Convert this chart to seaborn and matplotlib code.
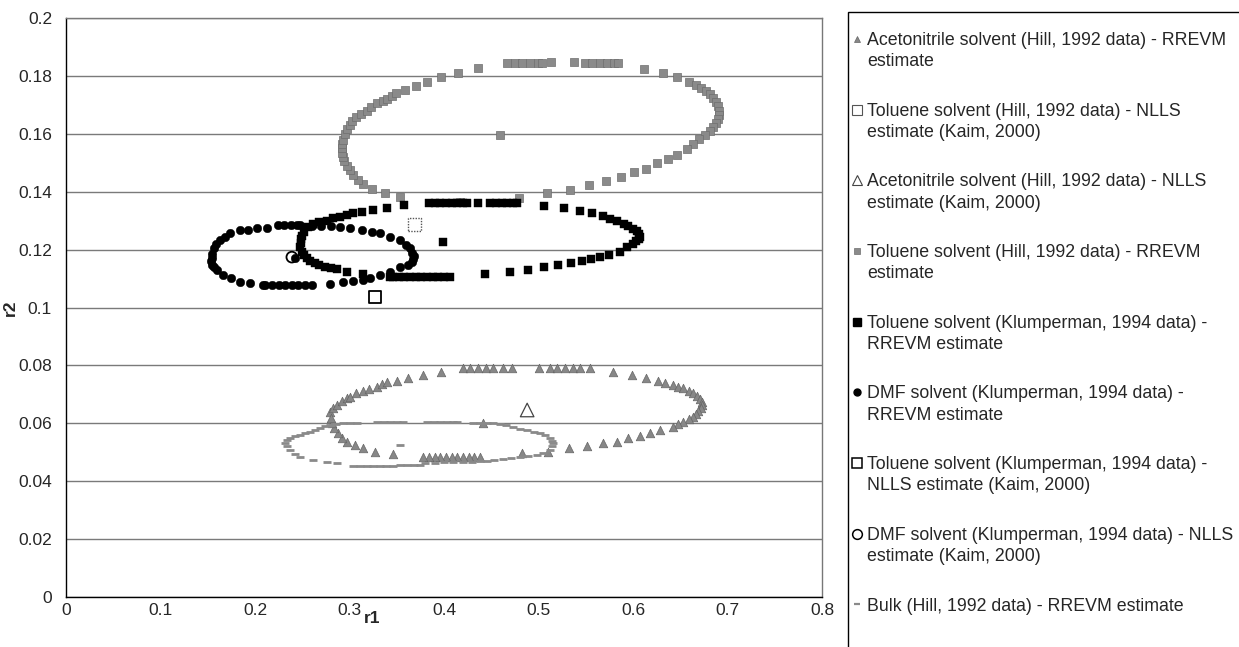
import matplotlib
matplotlib.use("Agg")
import matplotlib.pyplot as plt
from matplotlib.lines import Line2D
from matplotlib.legend_handler import HandlerLine2D
from matplotlib.patches import Rectangle
import seaborn as sns

# ---------------- data ----------------
# Acetonitrile solvent (Hill, 1992 data) - RREVM estimate (region + point estimate)
acn_rrevm_r1 = [0.279, 0.283, 0.287, 0.292, 0.297, 0.300, 0.307, 0.314, 0.321, 0.329, 0.334, 0.340,
                0.350, 0.362, 0.378, 0.397, 0.420, 0.428, 0.436, 0.444, 0.452, 0.462, 0.472, 0.500,
                0.512, 0.520, 0.528, 0.536, 0.544, 0.555, 0.579, 0.599, 0.614, 0.626, 0.634, 0.642,
                0.648, 0.653, 0.659, 0.664, 0.668, 0.671, 0.673, 0.673, 0.672, 0.669, 0.667, 0.664,
                0.659, 0.653, 0.648, 0.642, 0.629, 0.618, 0.607, 0.595, 0.583, 0.568, 0.551, 0.532,
                0.510, 0.483, 0.438, 0.432, 0.426, 0.420, 0.414, 0.408, 0.402, 0.396, 0.390, 0.384,
                0.378, 0.346, 0.327, 0.314, 0.306, 0.297, 0.292, 0.288, 0.284, 0.281, 0.280, 0.441]
acn_rrevm_r2 = [0.0640, 0.0652, 0.0663, 0.0677, 0.0688, 0.0692, 0.0703, 0.0713, 0.0720, 0.0726, 0.0735, 0.0742,
                0.0747, 0.0756, 0.0767, 0.0777, 0.0791, 0.0791, 0.0791, 0.0791, 0.0791, 0.0791, 0.0791, 0.0791,
                0.0790, 0.0790, 0.0790, 0.0790, 0.0790, 0.0790, 0.0777, 0.0767, 0.0756, 0.0746, 0.0738, 0.0732,
                0.0727, 0.0722, 0.0713, 0.0705, 0.0695, 0.0685, 0.0674, 0.0663, 0.0652, 0.0641, 0.0632, 0.0622,
                0.0614, 0.0605, 0.0597, 0.0587, 0.0577, 0.0566, 0.0556, 0.0549, 0.0535, 0.0532, 0.0522, 0.0515,
                0.0501, 0.0497, 0.0484, 0.0484, 0.0484, 0.0484, 0.0484, 0.0484, 0.0484, 0.0484, 0.0484, 0.0484,
                0.0484, 0.0494, 0.0501, 0.0515, 0.0525, 0.0535, 0.0550, 0.0566, 0.0584, 0.0601, 0.0620, 0.0601]

# Toluene solvent (Hill, 1992 data) - NLLS estimate (Kaim, 2000)
tol_hill_nlls_r1 = [0.369]
tol_hill_nlls_r2 = [0.1287]

# Acetonitrile solvent (Hill, 1992 data) - NLLS estimate (Kaim, 2000)
acn_nlls_r1 = [0.488]
acn_nlls_r2 = [0.0646]

# Toluene solvent (Hill, 1992 data) - RREVM estimate
tol_hill_rrevm_r1 = [0.467, 0.475, 0.483, 0.491, 0.499, 0.504, 0.513, 0.538, 0.549, 0.557, 0.565, 0.573,
                     0.580, 0.584, 0.612, 0.632, 0.647, 0.659, 0.667, 0.672, 0.677, 0.681, 0.685, 0.688,
                     0.690, 0.691, 0.691, 0.690, 0.688, 0.685, 0.681, 0.676, 0.670, 0.664, 0.657, 0.647,
                     0.637, 0.625, 0.614, 0.601, 0.587, 0.571, 0.553, 0.533, 0.509, 0.479, 0.417, 0.353,
                     0.338, 0.324, 0.314, 0.309, 0.304, 0.300, 0.297, 0.294, 0.293, 0.292, 0.292, 0.292,
                     0.293, 0.295, 0.297, 0.300, 0.303, 0.307, 0.312, 0.318, 0.323, 0.329, 0.335, 0.340,
                     0.345, 0.349, 0.359, 0.370, 0.382, 0.397, 0.415, 0.436, 0.459]
tol_hill_rrevm_r2 = [0.1845, 0.1845, 0.1845, 0.1845, 0.1845, 0.1845, 0.1848, 0.1848, 0.1845, 0.1845, 0.1845, 0.1845,
                     0.1843, 0.1843, 0.1824, 0.1810, 0.1796, 0.1780, 0.1768, 0.1758, 0.1748, 0.1737, 0.1724, 0.1710,
                     0.1695, 0.1680, 0.1665, 0.1650, 0.1636, 0.1622, 0.1608, 0.1595, 0.1582, 0.1565, 0.1547, 0.1527,
                     0.1513, 0.1500, 0.1480, 0.1468, 0.1451, 0.1437, 0.1423, 0.1406, 0.1395, 0.1378, 0.1365, 0.1382,
                     0.1395, 0.1410, 0.1425, 0.1440, 0.1458, 0.1475, 0.1490, 0.1505, 0.1520, 0.1535, 0.1550, 0.1565,
                     0.1580, 0.1600, 0.1615, 0.1632, 0.1645, 0.1658, 0.1670, 0.1680, 0.1693, 0.1706, 0.1714, 0.1720,
                     0.1730, 0.1740, 0.1750, 0.1765, 0.1780, 0.1796, 0.1810, 0.1827, 0.1596]

# Toluene solvent (Klumperman, 1994 data) - RREVM estimate
tol_klum_rrevm_r1 = [0.248, 0.2485, 0.249, 0.250, 0.252, 0.256, 0.261, 0.268, 0.276, 0.283, 0.290, 0.297,
                     0.304, 0.313, 0.325, 0.340, 0.358, 0.384, 0.390, 0.396, 0.402, 0.408, 0.414, 0.420,
                     0.424, 0.436, 0.449, 0.455, 0.461, 0.467, 0.473, 0.477, 0.506, 0.527, 0.544, 0.557,
                     0.568, 0.576, 0.583, 0.590, 0.595, 0.600, 0.604, 0.606, 0.607, 0.606, 0.603, 0.600,
                     0.594, 0.586, 0.575, 0.565, 0.556, 0.546, 0.534, 0.521, 0.506, 0.489, 0.470, 0.443,
                     0.406, 0.400, 0.394, 0.388, 0.382, 0.376, 0.370, 0.364, 0.358, 0.352, 0.346, 0.343,
                     0.314, 0.297, 0.287, 0.280, 0.274, 0.268, 0.263, 0.258, 0.255, 0.252, 0.250, 0.399]
tol_klum_rrevm_r2 = [0.1210, 0.1222, 0.1235, 0.1248, 0.1260, 0.1278, 0.1290, 0.1297, 0.1300, 0.1308, 0.1313, 0.1320,
                     0.1326, 0.1330, 0.1337, 0.1344, 0.1354, 0.1361, 0.1361, 0.1361, 0.1361, 0.1361, 0.1361, 0.1361,
                     0.1361, 0.1361, 0.1361, 0.1361, 0.1361, 0.1361, 0.1361, 0.1361, 0.1351, 0.1344, 0.1333, 0.1326,
                     0.1316, 0.1306, 0.1298, 0.1288, 0.1280, 0.1272, 0.1264, 0.1255, 0.1245, 0.1236, 0.1228, 0.1220,
                     0.1208, 0.1192, 0.1180, 0.1174, 0.1167, 0.1160, 0.1154, 0.1147, 0.1140, 0.1130, 0.1123, 0.1116,
                     0.1105, 0.1105, 0.1105, 0.1105, 0.1105, 0.1105, 0.1105, 0.1105, 0.1105, 0.1105, 0.1105, 0.1105,
                     0.1116, 0.1123, 0.1133, 0.1136, 0.1140, 0.1147, 0.1154, 0.1162, 0.1170, 0.1180, 0.1190, 0.1226]

# DMF solvent (Klumperman, 1994 data) - RREVM estimate
dmf_rrevm_r1 = [0.154, 0.155, 0.157, 0.159, 0.163, 0.168, 0.174, 0.184, 0.193, 0.202, 0.213, 0.224,
                0.231, 0.238, 0.244, 0.248, 0.260, 0.270, 0.280, 0.290, 0.300, 0.313, 0.324, 0.332,
                0.343, 0.353, 0.360, 0.364, 0.366, 0.368, 0.367, 0.366, 0.362, 0.353, 0.343, 0.332,
                0.322, 0.314, 0.304, 0.293, 0.279, 0.260, 0.253, 0.246, 0.239, 0.232, 0.225, 0.218,
                0.211, 0.208, 0.195, 0.184, 0.175, 0.166, 0.160, 0.157, 0.155, 0.153, 0.242]
dmf_rrevm_r2 = [0.1170, 0.1185, 0.1205, 0.1220, 0.1233, 0.1245, 0.1257, 0.1268, 0.1268, 0.1275, 0.1275, 0.1285,
                0.1285, 0.1285, 0.1285, 0.1285, 0.1283, 0.1282, 0.1280, 0.1278, 0.1275, 0.1268, 0.1260, 0.1257,
                0.1243, 0.1233, 0.1216, 0.1204, 0.1188, 0.1178, 0.1168, 0.1157, 0.1148, 0.1140, 0.1123, 0.1112,
                0.1102, 0.1095, 0.1092, 0.1088, 0.1081, 0.1078, 0.1078, 0.1078, 0.1078, 0.1078, 0.1078, 0.1078,
                0.1078, 0.1078, 0.1085, 0.1088, 0.1102, 0.1112, 0.1130, 0.1140, 0.1147, 0.1160, 0.1172]

# Toluene solvent (Klumperman, 1994 data) - NLLS estimate (Kaim, 2000)
tol_klum_nlls_r1 = [0.327]
tol_klum_nlls_r2 = [0.1036]

# DMF solvent (Klumperman, 1994 data) - NLLS estimate (Kaim, 2000)
dmf_nlls_r1 = [0.239]
dmf_nlls_r2 = [0.1174]

# Bulk (Hill, 1992 data) - RREVM estimate
bulk_rrevm_r1 = [0.232, 0.234, 0.237, 0.242, 0.248, 0.253, 0.258, 0.263, 0.269, 0.274, 0.279, 0.286,
                 0.293, 0.300, 0.308, 0.329, 0.336, 0.343, 0.350, 0.357, 0.382, 0.389, 0.396, 0.403,
                 0.410, 0.414, 0.431, 0.438, 0.445, 0.452, 0.459, 0.466, 0.473, 0.480, 0.488, 0.495,
                 0.502, 0.507, 0.512, 0.514, 0.515, 0.514, 0.512, 0.505, 0.498, 0.489, 0.480, 0.471,
                 0.462, 0.453, 0.445, 0.438, 0.430, 0.420, 0.410, 0.400, 0.390, 0.380, 0.375, 0.368,
                 0.361, 0.353, 0.346, 0.339, 0.332, 0.325, 0.318, 0.311, 0.304, 0.287, 0.276, 0.261,
                 0.248, 0.242, 0.237, 0.234, 0.353]
bulk_rrevm_r2 = [0.0532, 0.0541, 0.0549, 0.0555, 0.0560, 0.0565, 0.0570, 0.0577, 0.0584, 0.0589, 0.0594, 0.0598,
                 0.0601, 0.0601, 0.0601, 0.0604, 0.0604, 0.0604, 0.0604, 0.0604, 0.0604, 0.0604, 0.0604, 0.0604,
                 0.0604, 0.0604, 0.0601, 0.0601, 0.0601, 0.0601, 0.0598, 0.0593, 0.0587, 0.0582, 0.0577, 0.0571,
                 0.0566, 0.0558, 0.0549, 0.0540, 0.0532, 0.0520, 0.0508, 0.0499, 0.0490, 0.0487, 0.0484, 0.0480,
                 0.0477, 0.0473, 0.0470, 0.0470, 0.0468, 0.0468, 0.0466, 0.0466, 0.0464, 0.0462, 0.0456, 0.0456,
                 0.0456, 0.0456, 0.0453, 0.0453, 0.0453, 0.0453, 0.0453, 0.0453, 0.0453, 0.0463, 0.0466, 0.0473,
                 0.0484, 0.0495, 0.0508, 0.0520, 0.0525]

series_labels = [
    "Acetonitrile solvent (Hill, 1992 data) - RREVM\nestimate",
    "Toluene solvent (Hill, 1992 data) - NLLS\nestimate (Kaim, 2000)",
    "Acetonitrile solvent (Hill, 1992 data) - NLLS\nestimate (Kaim, 2000)",
    "Toluene solvent (Hill, 1992 data) - RREVM\nestimate",
    "Toluene solvent (Klumperman, 1994 data) -\nRREVM estimate",
    "DMF solvent (Klumperman, 1994 data) -\nRREVM estimate",
    "Toluene solvent (Klumperman, 1994 data) -\nNLLS estimate (Kaim, 2000)",
    "DMF solvent (Klumperman, 1994 data) - NLLS\nestimate (Kaim, 2000)",
    "Bulk (Hill, 1992 data) - RREVM estimate",
]
x_ticks = [0, 0.1, 0.2, 0.3, 0.4, 0.5, 0.6, 0.7, 0.8]
x_tick_labels = ["0", "0.1", "0.2", "0.3", "0.4", "0.5", "0.6", "0.7", "0.8"]
y_ticks = [0, 0.02, 0.04, 0.06, 0.08, 0.1, 0.12, 0.14, 0.16, 0.18, 0.2]
y_tick_labels = ["0", "0.02", "0.04", "0.06", "0.08", "0.1", "0.12", "0.14", "0.16", "0.18", "0.2"]

# ---------------- styling ----------------
sns.set_style("white")
plt.rcParams["font.family"] = ["Liberation Sans", "DejaVu Sans"]
FS = 12.5
LFS = 12.8
plt.rcParams["font.size"] = FS

W, H = 1239, 647
fig = plt.figure(figsize=(W / 100, H / 100), dpi=100)
L, R, T, B = 66, 822, 18, 597
ax = fig.add_axes([L / W, 1 - B / H, (R - L) / W, (B - T) / H])

GRAY_SQ = "#8a8a8a"
GRAY_TRI = "#878787"
GRAY_BULK = "#8a8a8a"

styles = [
    (acn_rrevm_r1, acn_rrevm_r2,
     dict(marker="^", s=38, color=GRAY_TRI, edgecolor="#666666", linewidth=0.5),
     dict(marker="^", markersize=5, color=GRAY_TRI, markeredgecolor="#666666", markeredgewidth=0.5)),
    (tol_hill_nlls_r1, tol_hill_nlls_r2,
     dict(marker="s", s=80, facecolor="none", edgecolor="#555555", linewidth=1.0, linestyle=(0, (1, 1))),
     dict(marker="s", markersize=6.5, markerfacecolor="none", markeredgecolor="#555555", markeredgewidth=0.8)),
    (acn_nlls_r1, acn_nlls_r2,
     dict(marker="^", s=95, facecolor="none", edgecolor="#444444", linewidth=0.9),
     dict(marker="^", markersize=7.5, markerfacecolor="none", markeredgecolor="#444444", markeredgewidth=0.8)),
    (tol_hill_rrevm_r1, tol_hill_rrevm_r2,
     dict(marker="s", s=34, color=GRAY_SQ, edgecolor="#6e6e6e", linewidth=0.5),
     dict(marker="s", markersize=4.5, color=GRAY_SQ, markeredgecolor="#6e6e6e", markeredgewidth=0.5)),
    (tol_klum_rrevm_r1, tol_klum_rrevm_r2,
     dict(marker="s", s=38, color="black", edgecolor="black", linewidth=0.3),
     dict(marker="s", markersize=5.5, color="black")),
    (dmf_rrevm_r1, dmf_rrevm_r2,
     dict(marker="o", s=38, color="black", edgecolor="black", linewidth=0.3),
     dict(marker="o", markersize=5, color="black")),
    (tol_klum_nlls_r1, tol_klum_nlls_r2,
     dict(marker="s", s=80, facecolor="none", edgecolor="black", linewidth=1.3),
     dict(marker="s", markersize=7.5, markerfacecolor="none", markeredgecolor="black", markeredgewidth=1.1)),
    (dmf_nlls_r1, dmf_nlls_r2,
     dict(marker="o", s=60, facecolor="none", edgecolor="black", linewidth=1.3),
     dict(marker="o", markersize=7, markerfacecolor="none", markeredgecolor="black", markeredgewidth=1.1)),
    (bulk_rrevm_r1, bulk_rrevm_r2,
     dict(marker="_", s=30, color=GRAY_BULK, linewidth=2.0),
     dict(marker="_", markersize=5, color=GRAY_BULK, markeredgewidth=1.6)),
]

for i, (xs, ys, kw, _) in enumerate(styles):
    sns.scatterplot(x=xs, y=ys, ax=ax, legend=False, zorder=3 + i, clip_on=False, **kw)

ax.set_xlim(0, 0.8)
ax.set_ylim(0, 0.2)
ax.set_xticks(x_ticks)
ax.set_xticklabels(x_tick_labels)
ax.set_yticks(y_ticks)
ax.set_yticklabels(y_tick_labels)
ax.tick_params(axis="x", direction="out", length=3, width=1, pad=1, labelsize=FS, color="black")
ax.tick_params(axis="y", direction="out", length=4, width=1, pad=6, labelsize=FS, color="black")
ax.yaxis.grid(True, color="#7a7a7a", linewidth=1.0)
ax.xaxis.grid(False)
ax.set_axisbelow(True)

for side in ["left", "bottom"]:
    ax.spines[side].set_color("black")
    ax.spines[side].set_linewidth(1.0)
ax.spines["top"].set_color("#7a7a7a")
ax.spines["top"].set_linewidth(1.0)
ax.spines["right"].set_color("#777777")
ax.spines["right"].set_linewidth(1.0)
ax.spines["right"].set_linestyle((0, (1, 1)))

ax.set_xlabel("r1", fontweight="bold", fontsize=FS)
ax.xaxis.set_label_coords(0.405, -0.025)
ax.set_ylabel("r2", fontweight="bold", fontsize=FS)
ax.yaxis.set_label_coords(-0.064, 0.5)


class FirstLineHandler(HandlerLine2D):
    def __init__(self, shift=0.0, **kw):
        super().__init__(**kw)
        self.shift = shift

    def create_artists(self, legend, orig_handle, xdescent, ydescent, width, height, fontsize, trans):
        arts = super().create_artists(legend, orig_handle, xdescent, ydescent, width, height, fontsize, trans)
        for a in arts:
            yd = a.get_ydata()
            a.set_ydata([v + self.shift * fontsize for v in yd])
        return arts


handles = []
hmap = {}
for (xs, ys, kw, lkw), lab in zip(styles, series_labels):
    h = Line2D([], [], linestyle="none", **lkw)
    handles.append(h)
    hmap[h] = FirstLineHandler(shift=0.7 if "\n" in lab else 0.0)

leg = fig.legend(handles, series_labels, loc="upper left",
                 bbox_to_anchor=(852 / W, 1 - 32 / H), bbox_transform=fig.transFigure,
                 frameon=False, borderpad=0, borderaxespad=0, fontsize=LFS,
                 handlelength=0.6, handletextpad=0.25, labelspacing=1.83,
                 handler_map=hmap)
for t in leg.get_texts():
    t.set_linespacing(1.32)

fig.patches.append(Rectangle((848 / W, -0.02), 0.5, 1 - 12 / H + 0.02,
                             transform=fig.transFigure, fill=False,
                             edgecolor="black", linewidth=1.0, figure=fig))

fig.savefig("out.png", dpi=100)
